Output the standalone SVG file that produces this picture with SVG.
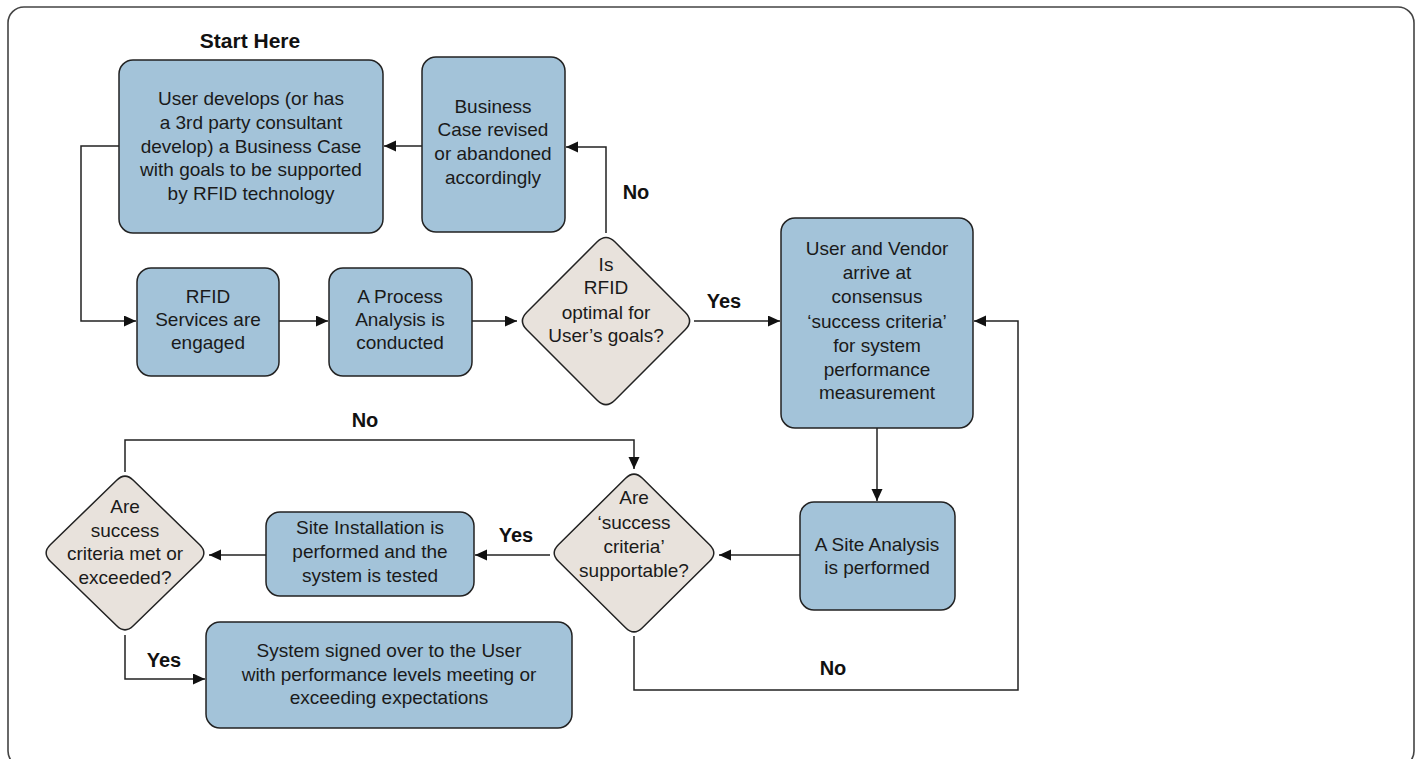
<svg xmlns="http://www.w3.org/2000/svg" width="1421" height="759" viewBox="0 0 1421 759">
<defs>
<marker id="arr" markerUnits="userSpaceOnUse" markerWidth="13" markerHeight="12" refX="12" refY="5.5" orient="auto">
<path d="M0,0 L12,5.5 L0,11 Z" fill="#111"/>
</marker>
<style>
.box{fill:#a3c3d9;stroke:#222;stroke-width:1.5}
.dia{fill:#e8e2dc;stroke:#222;stroke-width:1.5}
.t{font-family:"Liberation Sans",Arial,sans-serif;font-size:19px;fill:#1a1a1a;text-anchor:middle}
.lbl{font-family:"Liberation Sans",Arial,sans-serif;font-size:20px;font-weight:bold;fill:#111;text-anchor:middle}
.c{fill:none;stroke:#222;stroke-width:1.5}
.ca{fill:none;stroke:#222;stroke-width:1.5;marker-end:url(#arr)}
</style>
</defs>
<rect x="0" y="0" width="1421" height="759" fill="#fff"/>
<rect x="8" y="7" width="1406" height="760" rx="16" fill="none" stroke="#444" stroke-width="1.6"/>

<g id="connectors">
<path class="ca" d="M119,146 H81 V321 H136"/>
<path class="ca" d="M279,321 H328"/>
<path class="ca" d="M472,321 H517"/>
<path class="ca" d="M606,233 V147 H566"/>
<path class="ca" d="M422,146 H384"/>
<path class="ca" d="M694,321 H780"/>
<path class="ca" d="M877,428 V501"/>
<path class="ca" d="M800,555 H719"/>
<path class="ca" d="M634,636 V690 H1018 V321 H974"/>
<path class="ca" d="M550,555 H475"/>
<path class="ca" d="M266,555 H209"/>
<path class="ca" d="M125,472 V440 H634 V469"/>
<path class="ca" d="M125,635 V679 H205"/>
<text class="lbl" x="636" y="199">No</text>
<text class="lbl" x="724" y="308">Yes</text>
<text class="lbl" x="365" y="427">No</text>
<text class="lbl" x="516" y="542">Yes</text>
<text class="lbl" x="164" y="667">Yes</text>
<text class="lbl" x="833" y="675">No</text>
</g>

<g id="start-label">
<text class="lbl" x="250" y="48" style="font-size:21px">Start Here</text>
</g>

<g id="n-business-case">
<rect class="box" x="119" y="60" width="264" height="173" rx="14"/>
<text class="t" x="251" y="105">User develops (or has</text>
<text class="t" x="251" y="129">a 3rd party consultant</text>
<text class="t" x="251" y="153">develop) a Business Case</text>
<text class="t" x="251" y="176">with goals to be supported</text>
<text class="t" x="251" y="200">by RFID technology</text>
</g>

<g id="n-revised">
<rect class="box" x="422" y="57" width="143" height="175" rx="14"/>
<text class="t" x="493" y="113">Business</text>
<text class="t" x="493" y="136">Case revised</text>
<text class="t" x="493" y="160">or abandoned</text>
<text class="t" x="493" y="184">accordingly</text>
</g>

<g id="n-rfid-services">
<rect class="box" x="137" y="268" width="142" height="108" rx="14"/>
<text class="t" x="208" y="303">RFID</text>
<text class="t" x="208" y="326">Services are</text>
<text class="t" x="208" y="349">engaged</text>
</g>

<g id="n-process">
<rect class="box" x="329" y="268" width="143" height="108" rx="14"/>
<text class="t" x="400" y="303">A Process</text>
<text class="t" x="400" y="326">Analysis is</text>
<text class="t" x="400" y="349">conducted</text>
</g>

<g id="n-rfid-optimal">
<path class="dia" d="M597.2,241.8 Q606,233 614.8,241.8 L685.2,312.2 Q694,321 685.2,329.8 L614.8,400.2 Q606,409 597.2,400.2 L526.8,329.8 Q518,321 526.8,312.2 Z"/>
<text class="t" x="606" y="271">Is</text>
<text class="t" x="606" y="294">RFID</text>
<text class="t" x="606" y="319">optimal for</text>
<text class="t" x="606" y="342">User’s goals?</text>
</g>

<g id="n-consensus">
<rect class="box" x="781" y="218" width="192" height="210" rx="14"/>
<text class="t" x="877" y="255">User and Vendor</text>
<text class="t" x="877" y="279">arrive at</text>
<text class="t" x="877" y="303">consensus</text>
<text class="t" x="877" y="328">‘success criteria’</text>
<text class="t" x="877" y="352">for system</text>
<text class="t" x="877" y="376">performance</text>
<text class="t" x="877" y="399">measurement</text>
</g>

<g id="n-site-analysis">
<rect class="box" x="800" y="502" width="155" height="108" rx="14"/>
<text class="t" x="877" y="551">A Site Analysis</text>
<text class="t" x="877" y="574">is performed</text>
</g>

<g id="n-supportable">
<path class="dia" d="M625.6,478.3 Q634,470 642.4,478.3 L709.6,544.7 Q718,553 709.6,561.3 L642.4,627.7 Q634,636 625.6,627.7 L558.4,561.3 Q550,553 558.4,544.7 Z"/>
<text class="t" x="634" y="504">Are</text>
<text class="t" x="634" y="529">‘success</text>
<text class="t" x="634" y="553">criteria’</text>
<text class="t" x="634" y="577">supportable?</text>
</g>

<g id="n-installation">
<rect class="box" x="266" y="512" width="208" height="84" rx="14"/>
<text class="t" x="370" y="534">Site Installation is</text>
<text class="t" x="370" y="558">performed and the</text>
<text class="t" x="370" y="582">system is tested</text>
</g>

<g id="n-met">
<path class="dia" d="M116.7,480.2 Q125,472 133.3,480.2 L199.7,544.8 Q208,553 199.7,561.2 L133.3,625.8 Q125,634 116.7,625.8 L50.3,561.2 Q42,553 50.3,544.8 Z"/>
<text class="t" x="125" y="513">Are</text>
<text class="t" x="125" y="537">success</text>
<text class="t" x="125" y="560">criteria met or</text>
<text class="t" x="125" y="584">exceeded?</text>
</g>

<g id="n-signed">
<rect class="box" x="206" y="622" width="366" height="106" rx="14"/>
<text class="t" x="389" y="657">System signed over to the User</text>
<text class="t" x="389" y="681">with performance levels meeting or</text>
<text class="t" x="389" y="704">exceeding expectations</text>
</g>
</svg>
